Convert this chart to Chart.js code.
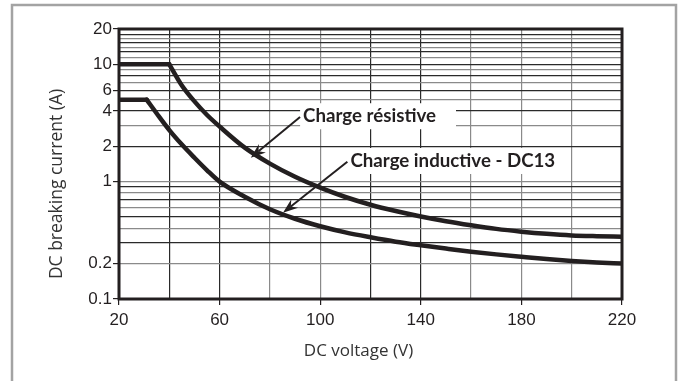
<!DOCTYPE html>
<html><head><meta charset="utf-8">
<script src="https://cdn.jsdelivr.net/npm/chart.js@4"></script>
<style>html,body{margin:0;padding:0;background:#fff;overflow:hidden}</style>
</head><body>
<canvas id="c" width="684" height="381"></canvas>
<script>
// ---- data ----
const voltage   = [20, 31, 35, 40, 45, 50, 55, 60, 70, 80, 90, 100, 110, 120, 130, 140, 150, 160, 170, 180, 190, 200, 210, 220];
const resistive = [10, 10, 10, 10, 6.6, 4.83, 3.70, 2.95, 1.95, 1.425, 1.10, 0.889, 0.740, 0.636, 0.562, 0.505, 0.460, 0.425, 0.396, 0.375, 0.359, 0.348, 0.343, 0.340];
const inductive = [5, 5, 3.81, 2.75, 2.07, 1.60, 1.25, 1.0, 0.744, 0.582, 0.483, 0.417, 0.370, 0.336, 0.308, 0.287, 0.269, 0.253, 0.240, 0.229, 0.219, 0.211, 0.205, 0.2007];
const xTickLabels = [20, 60, 100, 140, 180, 220];
const xGridValues = [20, 40, 60, 80, 100, 120, 140, 160, 180, 200, 220];
const yTickLabels = [0.1, 0.2, 1, 2, 4, 6, 10, 20];
const yGridValues = [0.1, 0.2, 0.3, 0.4, 0.5, 0.6, 0.7, 0.8, 0.9, 1, 2, 3, 4, 5, 6, 7, 8, 9, 10, 11.5, 12.8, 14, 15.4, 16.7, 18, 20];
const xTitle = 'DC voltage (V)';
const yTitle = 'DC breaking current (A)';
const labelTexts  = ['Charge résistive', 'Charge inductive - DC13'];
const labelAnchor = [[93.2, 3.61], [112, 1.5]];      // text left / middle (data coords)
const arrowTail   = [[92, 3.55], [110.8, 1.48]];
const arrowTip    = [[72.4, 1.6], [85.2, 0.543]];

const INK = '#231f20';
const near = (a, b) => Math.abs(a - b) < 1e-6 * Math.max(1, Math.abs(b));
const isIn = (arr, v) => arr.some(a => near(a, v));

const lineStyle = {
  borderColor: INK, borderWidth: 4.5, pointRadius: 0, fill: false,
  cubicInterpolationMode: 'monotone', borderCapStyle: 'round', borderJoinStyle: 'round'
};

// split a series into its flat plateau and the falling curve (sharp corner between them)
function splitSeries(label, values) {
  let k = 0;
  while (k + 1 < values.length && values[k + 1] === values[0]) k++;
  const pts = voltage.map((v, i) => ({x: v, y: values[i]}));
  return [
    Object.assign({ label: label, data: pts.slice(0, k + 1) }, lineStyle, { cubicInterpolationMode: 'default', tension: 0 }),
    Object.assign({ label: label, data: pts.slice(k) }, lineStyle)
  ];
}

const framePlugin = {
  id: 'frame',
  beforeDraw(chart) {
    const ctx = chart.ctx;
    ctx.save();
    ctx.strokeStyle = '#a3a3a3';
    ctx.lineWidth = 2.5;
    ctx.strokeRect(12, 5, 664, 420);
    ctx.restore();
  },
  beforeDatasetsDraw(chart) {
    const {ctx, chartArea: a} = chart;
    ctx.save();
    ctx.strokeStyle = INK;
    ctx.lineWidth = 3;
    ctx.strokeRect(a.left, a.top, a.right - a.left, a.bottom - a.top);
    // axis titles
    ctx.fillStyle = '#333';
    ctx.font = '17px "Open Sans"';
    ctx.textAlign = 'center';
    ctx.textBaseline = 'middle';
    ctx.fillText(xTitle, (a.left + a.right) / 2 - 12, a.bottom + 52);
    ctx.translate(a.left - 62, (a.top + a.bottom) / 2 + 20);
    ctx.rotate(-Math.PI / 2);
    ctx.font = '17.5px "Open Sans"';
    ctx.fillText(yTitle, 0, 0);
    ctx.restore();
  },
  afterDatasetsDraw(chart) {
    const ctx = chart.ctx;
    const xs = chart.scales.x, ys = chart.scales.y;
    const padR = [20, 4];
    labelTexts.forEach((t, i) => {
      const lx = xs.getPixelForValue(labelAnchor[i][0]);
      const ly = ys.getPixelForValue(labelAnchor[i][1]);
      ctx.save();
      ctx.font = 'bold 18.7px Lato';
      const w = ctx.measureText(t).width;
      ctx.fillStyle = '#fff';
      ctx.fillRect(lx - 3, ly - 13, w + 3 + padR[i], 26);
      ctx.fillStyle = INK;
      ctx.textBaseline = 'middle';
      ctx.textAlign = 'left';
      ctx.fillText(t, lx, ly);
      // arrow
      const x1 = xs.getPixelForValue(arrowTail[i][0]), y1 = ys.getPixelForValue(arrowTail[i][1]);
      const x2 = xs.getPixelForValue(arrowTip[i][0]),  y2 = ys.getPixelForValue(arrowTip[i][1]);
      const ang = Math.atan2(y2 - y1, x2 - x1);
      const L = 15, H = 5.5, N = 10;
      ctx.strokeStyle = INK;
      ctx.lineWidth = 2;
      ctx.beginPath();
      ctx.moveTo(x1, y1);
      ctx.lineTo(x2 - Math.cos(ang) * N, y2 - Math.sin(ang) * N);
      ctx.stroke();
      ctx.translate(x2, y2);
      ctx.rotate(ang);
      ctx.fillStyle = INK;
      ctx.beginPath();
      ctx.moveTo(0, 0);
      ctx.lineTo(-L, -H);
      ctx.lineTo(-N, 0);
      ctx.lineTo(-L, H);
      ctx.closePath();
      ctx.fill();
      ctx.restore();
    });
  }
};

new Chart(document.getElementById('c'), {
  type: 'line',
  data: {
    datasets: [].concat(
      splitSeries('Charge résistive', resistive),
      splitSeries('Charge inductive - DC13', inductive)
    )
  },
  options: {
    responsive: false,
    animation: false,
    events: [],
    layout: { padding: { left: 48, right: 62, top: 29, bottom: 22 } },
    plugins: { legend: { display: false }, tooltip: { enabled: false } },
    scales: {
      x: {
        type: 'linear', min: 20, max: 220,
        afterBuildTicks: s => { s.ticks = xGridValues.map(v => ({value: v})); },
        afterFit: s => { s.height = 60; },
        border: { display: false },
        grid: {
          color: c => ([40, 60, 120, 140].includes(c.tick.value) ? '#2a2a2a' : '#8a8a8a'),
          lineWidth: 1.2,
          drawTicks: true, tickLength: 6,
          tickColor: c => (xTickLabels.includes(c.tick.value) ? INK : 'rgba(0,0,0,0)')
        },
        ticks: {
          autoSkip: false, maxRotation: 0, padding: 5,
          color: INK, font: { family: 'Liberation Sans', size: 17 },
          callback: v => (xTickLabels.includes(v) ? String(v) : '')
        },
        title: { display: false }
      },
      y: {
        type: 'logarithmic', min: 0.1, max: 20,
        afterBuildTicks: s => { s.ticks = yGridValues.map(v => ({value: v})); },
        afterFit: s => { s.width = 71; },
        border: { display: false },
        grid: {
          color: c => (c.index % 2 === 0 ? '#2a2a2a' : '#8a8a8a'),
          lineWidth: 1.2,
          drawTicks: true, tickLength: 6,
          tickColor: c => (isIn(yTickLabels, c.tick.value) ? INK : 'rgba(0,0,0,0)')
        },
        ticks: {
          autoSkip: false, padding: 1,
          color: INK, font: { family: 'Liberation Sans', size: 17 },
          callback: v => (isIn(yTickLabels, v) ? String(v) : '')
        },
        title: { display: false }
      }
    }
  },
  plugins: [framePlugin]
});
</script>
</body></html>
